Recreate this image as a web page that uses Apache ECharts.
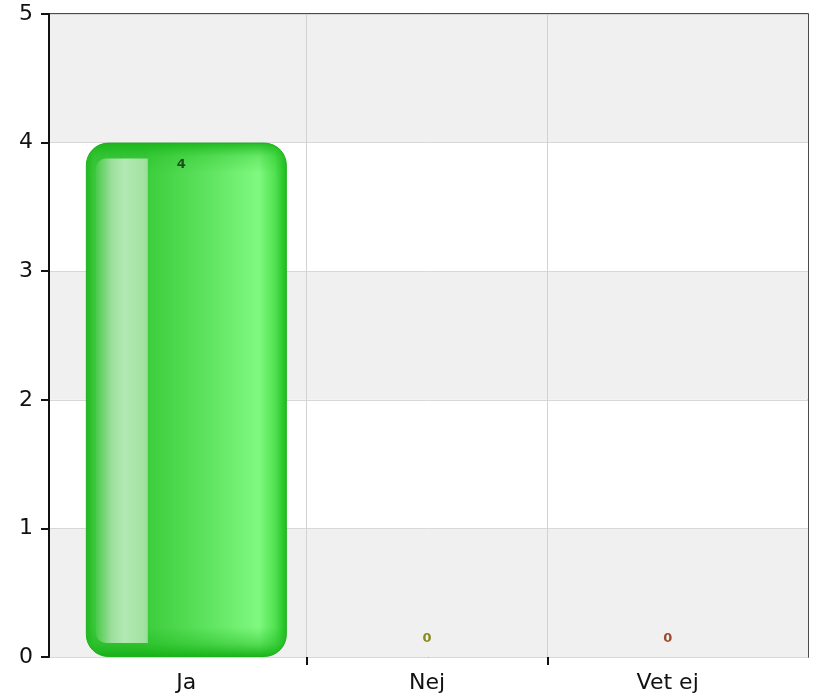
<!DOCTYPE html>
<html>
<head>
<meta charset="utf-8">
<script src="https://cdn.jsdelivr.net/npm/echarts@6/dist/echarts.min.js"></script>
<style>
  html, body { margin: 0; padding: 0; background: #ffffff; }
  #chart { width: 815px; height: 699px; }
</style>
</head>
<body>
<div id="chart"></div>
<script>
// data
var categories = ["Ja", "Nej", "Vet ej"];
var values = [4, 0, 0];
var labelColors = ["#1d4f1d", "#8a8a1c", "#9a4a30"];
var yTicks = [0, 1, 2, 3, 4, 5];

// layout
var W = 815;
var CAT_LEFT = 66, CAT_RIGHT = 27;
var BAR_W = 201;
var catW = (W - CAT_LEFT - CAT_RIGHT) / categories.length;

var chart = echarts.init(document.getElementById("chart"));

// bar body
var barFill = new echarts.graphic.LinearGradient(0, 0, 1, 0, [
  { offset: 0, color: "#1cb81c" },
  { offset: 0.04, color: "#3ac63a" },
  { offset: 0.3, color: "#3cc93c" },
  { offset: 0.31, color: "#3dcd3d" },
  { offset: 0.6, color: "#5ee35e" },
  { offset: 0.86, color: "#80f980" },
  { offset: 0.94, color: "#52e252" },
  { offset: 1, color: "#1cbb1c" }
]);
// glossy strip on the left
var stripFill = new echarts.graphic.LinearGradient(0, 0, 1, 0, [
  { offset: 0, color: "#48ca48" },
  { offset: 0.3, color: "#9cde9c" },
  { offset: 0.55, color: "#b3e9b3" },
  { offset: 0.92, color: "#a2e2a2" },
  { offset: 1, color: "#98dd98" }
]);
var topShade = new echarts.graphic.LinearGradient(0, 0, 0, 1, [
  { offset: 0, color: "rgba(22,178,22,0.85)" },
  { offset: 0.45, color: "rgba(30,185,30,0.25)" },
  { offset: 1, color: "rgba(30,185,30,0)" }
]);
var bottomShade = new echarts.graphic.LinearGradient(0, 0, 0, 1, [
  { offset: 0, color: "rgba(28,184,28,0)" },
  { offset: 0.55, color: "rgba(28,184,28,0.4)" },
  { offset: 1, color: "rgba(22,176,22,0.95)" }
]);

var yAxisBase = {
  type: "value",
  min: yTicks[0],
  max: yTicks[yTicks.length - 1],
  interval: 1
};

var option = {
  animation: false,
  textStyle: { fontFamily: "DejaVu Sans" },
  grid: [
    // frame, bands, y axis
    { left: 49, right: 7, top: 14, bottom: 42, show: true, borderColor: "#111", borderWidth: 1.5 },
    // categories
    { left: CAT_LEFT, right: CAT_RIGHT, top: 14, bottom: 42 },
    // inner category boundaries (ticks + vertical grid lines)
    { left: CAT_LEFT + catW, right: CAT_RIGHT + catW, top: 14, bottom: 42 }
  ],
  xAxis: [
    { type: "value", gridIndex: 0, show: false },
    {
      type: "category",
      gridIndex: 1,
      data: categories,
      boundaryGap: true,
      axisLine: { show: false },
      axisTick: { show: false },
      axisLabel: { color: "#111", fontSize: 22, margin: 15 },
      splitLine: { show: false }
    },
    {
      type: "value",
      gridIndex: 2,
      min: 0, max: 1, interval: 1,
      axisLine: { show: false },
      axisLabel: { show: false },
      axisTick: { show: true, length: 8, lineStyle: { color: "#111", width: 2 } },
      splitLine: { show: true, lineStyle: { color: "#d2d2d2", width: 1 } }
    }
  ],
  yAxis: [
    Object.assign({}, yAxisBase, {
      gridIndex: 0,
      axisLine: { show: true, lineStyle: { color: "#111", width: 2 } },
      axisTick: { show: true, length: 8, lineStyle: { color: "#111", width: 2 } },
      axisLabel: { color: "#111", fontSize: 22, margin: 16 },
      splitLine: { show: true, lineStyle: { color: "#d8d8d8", width: 1 } },
      splitArea: { show: true, areaStyle: { color: ["#f0f0f0", "#ffffff"] } }
    }),
    Object.assign({}, yAxisBase, { gridIndex: 1, show: false, splitLine: { show: false } }),
    Object.assign({}, yAxisBase, { gridIndex: 2, show: false, splitLine: { show: false } })
  ],
  series: [
    {
      type: "bar",
      xAxisIndex: 1,
      yAxisIndex: 1,
      barWidth: BAR_W,
      z: 2,
      data: values.map(function (v) {
        return {
          value: v,
          itemStyle: v > 0
            ? { color: barFill, borderColor: "#1fb21f", borderWidth: 1, borderRadius: 22 }
            : { color: "transparent", borderWidth: 0 }
        };
      })
    },
    {
      // gloss of each bar: darker top/bottom rims and a light strip
      type: "custom",
      xAxisIndex: 1,
      yAxisIndex: 1,
      z: 3,
      data: values.map(function (v, i) { return [i, v]; }),
      renderItem: function (params, api) {
        var v = api.value(1);
        if (!v) return;
        var top = api.coord([api.value(0), v]);
        var base = api.coord([api.value(0), 0]);
        var x0 = top[0] - BAR_W / 2;
        var h = base[1] - top[1];
        return {
          type: "group",
          children: [
            {
              type: "rect",
              shape: { x: x0 + 0.5, y: top[1] + 0.5, width: BAR_W - 1, height: 30, r: [22, 22, 0, 0] },
              style: { fill: topShade }
            },
            {
              type: "rect",
              shape: { x: x0 + 0.5, y: base[1] - 30, width: BAR_W - 1, height: 29.5, r: [0, 0, 22, 22] },
              style: { fill: bottomShade }
            },
            {
              type: "rect",
              shape: { x: x0 + 10, y: top[1] + 16, width: 52, height: h - 30, r: [10, 0, 0, 10] },
              style: { fill: stripFill }
            }
          ]
        };
      }
    },
    {
      // value labels
      type: "bar",
      xAxisIndex: 1,
      yAxisIndex: 1,
      barWidth: BAR_W,
      barGap: "-100%",
      z: 4,
      itemStyle: { color: "transparent" },
      data: values.map(function (v, i) {
        return {
          value: v,
          label: {
            color: labelColors[i],
            position: v > 0 ? "insideTop" : "top",
            distance: v > 0 ? 16 : 12,
            offset: v > 0 ? [-5, 0] : [0, 0]
          }
        };
      }),
      label: { show: true, fontSize: 13, fontWeight: "bold" }
    }
  ]
};

chart.setOption(option);
</script>
</body>
</html>
